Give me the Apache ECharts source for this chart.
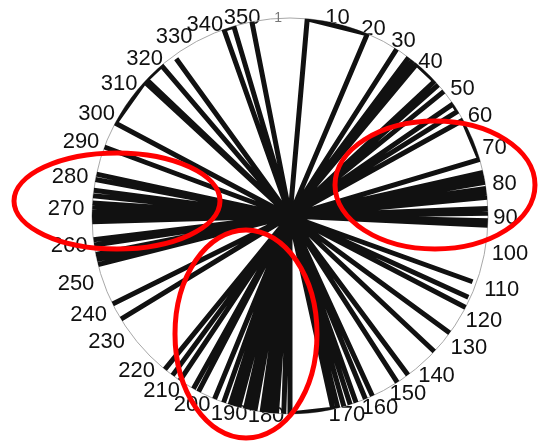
<!DOCTYPE html>
<html>
<head>
<meta charset="utf-8">
<script src="https://cdn.jsdelivr.net/npm/echarts@6/dist/echarts.min.js"></script>
<style>
  html, body { margin: 0; padding: 0; background: #ffffff; }
  #chart { width: 540px; height: 443px; }
</style>
</head>
<body>
<div id="chart"></div>
<script>
// Angular segments (degrees, clockwise from the top) where the trace reaches the rim.
// A segment whose start equals its end is a single spoke.
const segStart = [
  5, 32.6, 36.8, 38.3, 39.8, 48.5, 51, 55.5, 61,
  77.3, 78.8, 80.2, 82.0, 83.4, 84.6, 87.8, 89.2, 91.4, 92.7,
  109.8, 114.5, 117.5, 126.2, 133.2, 143.4, 147.2,
  155.4, 157.6, 160.5, 162.3, 164.2, 166.0, 167.5,
  181.8, 183.9, 185.3, 186.7, 188.1, 190.2, 191.6, 193.0, 195.0, 196.4, 197.6, 199.6,
  202.4, 207.5, 209.2, 213.8, 216.4, 219.2,
  238.6, 243.6,
  255.8, 257.3, 258.8, 261.6, 263.1, 268.3, 269.7, 271.1, 272.5, 273.8,
  275.9, 277.5, 280.6, 282.2,
  290.4, 298, 313.6, 324.1, 340.5, 348.9
];
const segEnd = [
  23, 32.6, 36.8, 38.3, 47, 48.5, 51, 58, 73.4,
  77.3, 78.8, 80.2, 82.0, 83.4, 84.6, 87.8, 89.2, 91.4, 92.7,
  109.8, 114.5, 117.5, 126.2, 133.2, 143.4, 147.2,
  155.4, 157.6, 160.5, 162.3, 164.2, 166.0, 180,
  181.8, 183.9, 185.3, 186.7, 188.1, 190.2, 191.6, 193.0, 195.0, 196.4, 197.6, 199.6,
  202.4, 207.5, 209.2, 213.8, 216.4, 219.2,
  238.6, 243.6,
  255.8, 257.3, 258.8, 261.6, 263.1, 268.3, 269.7, 271.1, 272.5, 273.8,
  275.9, 277.5, 280.6, 282.2,
  290.4, 312.7, 319.5, 324.1, 343.5, 348.9
];
const segRadius = [
  1, 1, 1, 1, 1, 1, 1, 1, 1,
  1, 1, 1, 1, 1, 1, 1, 1, 1, 1,
  0.98, 0.99, 1, 1, 1, 1, 1,
  1, 1, 1, 1, 1, 1, 1,
  1, 1, 1, 1, 1, 1, 1, 1, 1, 1, 1, 1,
  1, 1, 1, 1, 1, 1,
  1, 1,
  1, 1, 1, 1, 1, 1, 1, 1, 1, 1,
  1, 1, 1, 1,
  1, 1, 1, 0.98, 1, 1
];
const angleTickLabels = [10, 20, 30, 40, 50, 60, 70, 80, 90, 100, 110, 120, 130, 140, 150, 160, 170,
  180, 190, 200, 210, 220, 230, 240, 250, 260, 270, 280, 290, 300, 310, 320, 330, 340, 350];
const radiusTickLabels = [1];

// ---- label layout (style only): small per-label nudges in px, as placed in the original figure
const labelNudgeX = { 10: 13.6, 20: 4.5, 30: 3.7, 40: 2.9, 50: 10.8, 60: 8.8, 70: 9, 80: 10.2, 90: 8.2,
  100: 9.6, 110: 10.9, 120: 6.7, 130: 11.2, 140: 2.8, 150: 2.1, 160: 4.9, 170: 23.1, 180: -24, 190: -27.1,
  200: -12.9, 210: -12.6, 220: -9.7, 230: -15.7, 240: -14.2, 250: -12.4, 260: -10.6, 270: -10.6, 280: -9.6,
  290: -7.4, 300: -6.2, 310: -3.2, 320: -1.7, 330: 0, 340: 0, 350: -14.1 };
const labelNudgeY = { 10: 4.5, 20: 6.7, 30: 4.9, 40: 5.9, 50: 8.8, 60: 8.5, 70: 9.2, 80: 1.9, 90: 2,
  100: 4.1, 110: -3.7, 120: -3.5, 130: -4.8, 140: -0.4, 150: -1.9, 160: -2.7, 170: -4, 180: -6.5, 190: -5,
  200: -5.2, 210: -4.9, 220: -5.4, 230: -10.3, 240: -9.5, 250: -11.2, 260: -3.9, 270: -7, 280: -5.6,
  290: 3.2, 300: 6, 310: 3.8, 320: 2.9, 330: 0.4, 340: 3.2, 350: 4.5 };

const R = 198, MARGIN = -3, FS = 22;
const rich = {};
angleTickLabels.forEach(v => {
  const t = v * Math.PI / 180, s = Math.sin(t), c = Math.cos(t), k = (R + MARGIN) / R;
  const h = Math.abs(s) * k < 0.3 ? 'center' : (s > 0 ? 'left' : 'right');
  const vv = Math.abs(c) * k < 0.3 ? 'middle' : (c > 0 ? 'bottom' : 'top');
  const dx = labelNudgeX[v] || 0, dy = labelNudgeY[v] || 0;
  let T = 0, Rt = 0, B = 0, L = 0, LH = FS;
  if (h === 'center') { L = Math.max(0, 2 * dx); Rt = Math.max(0, -2 * dx); }
  else if (h === 'left') { L = Math.max(0, dx); }
  else { Rt = Math.max(0, -dx); }
  if (vv === 'middle') { T = Math.max(0, 2 * dy); B = Math.max(0, -2 * dy); }
  else if (vv === 'bottom') { if (dy > 0) LH = Math.max(2, FS - 2 * dy); else B = -dy; }
  else { if (dy < 0) LH = Math.max(2, FS + 2 * dy); else T = dy; }
  rich['a' + v] = {
    fontSize: FS, color: '#111', fontFamily: 'Liberation Sans, Arial, sans-serif',
    lineHeight: LH, padding: [T, Rt, B, L]
  };
});

// MATLAB-rose-like outline: centre -> rim at start -> rim at end -> centre
const outline = [];
segStart.forEach((s, i) => {
  const e = segEnd[i], r = segRadius[i];
  outline.push([0, s], [r, s], [r, e], [0, e]);
});

const chart = echarts.init(document.getElementById('chart'), null, { renderer: 'canvas' });
const ellipseStyle = { fill: 'none', stroke: '#ff0000', lineWidth: 5 };
chart.setOption({
  animation: false,
  backgroundColor: '#ffffff',
  polar: { center: [290, 216], radius: R },
  angleAxis: {
    type: 'value', min: 0, max: 360, interval: 10, startAngle: 90, clockwise: true,
    axisLine: { show: true, lineStyle: { color: '#a8a8a8', width: 1 } },
    axisTick: { show: false },
    splitLine: { show: false },
    axisLabel: {
      show: true, margin: MARGIN, color: '#111', fontSize: FS,
      fontFamily: 'Liberation Sans, Arial, sans-serif',
      formatter: v => angleTickLabels.includes(v) ? '{a' + v + '|' + v + '}' : '',
      rich: rich
    }
  },
  radiusAxis: {
    type: 'value', min: 0, max: 1, interval: 1,
    axisLine: { show: false }, axisTick: { show: false }, splitLine: { show: false },
    axisLabel: {
      margin: 8, color: '#777', fontSize: 14, fontFamily: 'Liberation Sans, Arial, sans-serif',
      formatter: v => radiusTickLabels.includes(v) ? String(v) : ''
    }
  },
  series: [{
    type: 'line', coordinateSystem: 'polar', data: outline,
    symbol: 'none', showSymbol: false, silent: true, clip: false,
    lineStyle: { color: '#111111', width: 5, join: 'bevel' },
    z: 2
  }],
  graphic: [
    { type: 'ellipse', x: 117, y: 201, shape: { cx: 0, cy: 0, rx: 103, ry: 48 }, style: ellipseStyle, z: 100 },
    { type: 'ellipse', x: 435, y: 185, shape: { cx: 0, cy: 0, rx: 100, ry: 64 }, style: ellipseStyle, z: 100 },
    { type: 'ellipse', x: 246, y: 334, shape: { cx: 0, cy: 0, rx: 71, ry: 104 }, style: ellipseStyle, z: 100 }
  ]
});
</script>
</body>
</html>
